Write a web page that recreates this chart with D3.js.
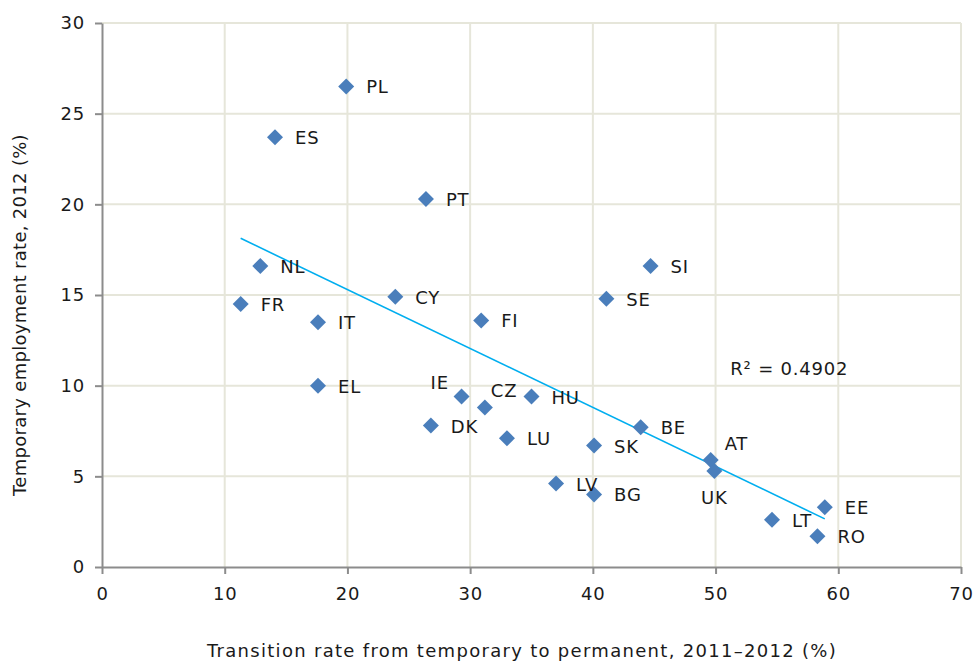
<!DOCTYPE html>
<html lang="en">
<head>
<meta charset="UTF-8">
<title>Temporary employment vs transition rate</title>
<script src="https://cdn.jsdelivr.net/npm/d3@7"></script>
<style>
  body { margin: 0; background: #fff; }
  svg text { font-family: "DejaVu Sans", Verdana, sans-serif; fill: #1a1a1a; }
  .grid line { stroke: #e6e6da; stroke-width: 2; }
  .axis path, .axis line { stroke: #8c8c8c; stroke-width: 2; }
  .axis text { font-size: 18px; letter-spacing: 0.8px; }
  .label { font-size: 18px; letter-spacing: 0.8px; }
</style>
</head>
<body>
<script>
// country codes, transition rate 2011-2012 (%), temporary employment rate 2012 (%)
var countries = ['PL', 'ES', 'PT', 'NL', 'FR', 'CY', 'IT', 'FI', 'SI', 'SE', 'EL', 'IE', 'CZ',
                 'HU', 'DK', 'LU', 'SK', 'BE', 'LV', 'BG', 'AT', 'UK', 'EE', 'LT', 'RO'];
var transition = [19.9, 14.1, 26.4, 12.9, 11.3, 23.9, 17.6, 30.9, 44.7, 41.1, 17.6, 29.3, 31.2,
                  35.0, 26.8, 33.0, 40.1, 43.9, 37.0, 40.1, 49.6, 49.9, 58.9, 54.6, 58.3];
var temporary = [26.5, 23.7, 20.3, 16.6, 14.5, 14.9, 13.5, 13.6, 16.6, 14.8, 10.0, 9.4, 8.8,
                 9.4, 7.8, 7.1, 6.7, 7.7, 4.6, 4.0, 5.9, 5.3, 3.3, 2.6, 1.7];
var xTicks = [0, 10, 20, 30, 40, 50, 60, 70];
var yTicks = [0, 5, 10, 15, 20, 25, 30];
var r2Text = 'R² = 0.4902';

var data = countries.map(function (c, i) {
  return { name: c, x: transition[i], y: temporary[i] };
});

// label placement relative to the marker (default: to the right)
var labelPos = {
  IE: { dx: -31, dy: -8, anchor: 'start' },
  CZ: { dx: 6, dy: -10, anchor: 'start' },
  AT: { dx: 14, dy: -10, anchor: 'start' },
  UK: { dx: 0, dy: 33, anchor: 'middle' }
};

var margin = { top: 23, right: 13, bottom: 96, left: 102 };
var W = 974, H = 663;
var width = W - margin.left - margin.right,
    height = H - margin.top - margin.bottom;

var svg = d3.select('body').append('svg')
  .attr('width', W)
  .attr('height', H);

var g = svg.append('g')
  .attr('transform', 'translate(' + margin.left + ',' + margin.top + ')');

var x = d3.scaleLinear().domain([0, 70]).range([0, width]);
var y = d3.scaleLinear().domain([0, 30]).range([height, 0]);

// gridlines
var grid = g.append('g').attr('class', 'grid');
grid.selectAll('.gx')
  .data(xTicks.filter(function (d) { return d > 0; }))
  .enter().append('line')
  .attr('x1', function (d) { return x(d); })
  .attr('x2', function (d) { return x(d); })
  .attr('y1', 0)
  .attr('y2', height);
grid.selectAll('.gy')
  .data(yTicks.filter(function (d) { return d > 0; }))
  .enter().append('line')
  .attr('x1', 0)
  .attr('x2', width)
  .attr('y1', function (d) { return y(d); })
  .attr('y2', function (d) { return y(d); });

// axes
g.append('g')
  .attr('class', 'axis')
  .attr('transform', 'translate(0,' + height + ')')
  .call(d3.axisBottom(x).tickValues(xTicks).tickSize(7).tickSizeOuter(0).tickPadding(13));

g.append('g')
  .attr('class', 'axis')
  .call(d3.axisLeft(y).tickValues(yTicks).tickSize(7).tickSizeOuter(0).tickPadding(10));

// linear trend line (least squares) over the data range
var mx = d3.mean(data, function (d) { return d.x; });
var my = d3.mean(data, function (d) { return d.y; });
var sxy = d3.sum(data, function (d) { return (d.x - mx) * (d.y - my); });
var sxx = d3.sum(data, function (d) { return (d.x - mx) * (d.x - mx); });
var slope = sxy / sxx, intercept = my - slope * mx;
var xr = d3.extent(data, function (d) { return d.x; });

g.append('line')
  .attr('x1', x(xr[0]))
  .attr('y1', y(intercept + slope * xr[0]))
  .attr('x2', x(xr[1]))
  .attr('y2', y(intercept + slope * xr[1]))
  .attr('stroke', '#00aeef')
  .attr('stroke-width', 1.6);

// markers
g.selectAll('.dot')
  .data(data)
  .enter().append('path')
  .attr('class', 'dot')
  .attr('d', d3.symbol().type(d3.symbolSquare).size(128))
  .attr('transform', function (d) {
    return 'translate(' + x(d.x) + ',' + y(d.y) + ') rotate(45)';
  })
  .attr('fill', '#4a7ebb');

// country labels
g.selectAll('.label')
  .data(data)
  .enter().append('text')
  .attr('class', 'label')
  .attr('x', function (d) {
    var p = labelPos[d.name];
    return x(d.x) + (p ? p.dx : 20);
  })
  .attr('y', function (d) {
    var p = labelPos[d.name];
    return y(d.y) + (p ? p.dy : 7);
  })
  .attr('text-anchor', function (d) {
    var p = labelPos[d.name];
    return p ? p.anchor : 'start';
  })
  .text(function (d) { return d.name; });

g.append('text')
  .attr('class', 'label')
  .attr('x', x(51.2))
  .attr('y', y(11) + 7)
  .text(r2Text);

// axis titles
svg.append('text')
  .attr('x', 522)
  .attr('y', 657)
  .attr('text-anchor', 'middle')
  .style('font-size', '18px')
  .style('letter-spacing', '1.3px')
  .text('Transition rate from temporary to permanent, 2011–2012 (%)');

svg.append('text')
  .attr('transform', 'translate(26,315) rotate(-90)')
  .attr('text-anchor', 'middle')
  .style('font-size', '18px')
  .style('letter-spacing', '0.3px')
  .text('Temporary employment rate, 2012 (%)');
</script>
</body>
</html>
